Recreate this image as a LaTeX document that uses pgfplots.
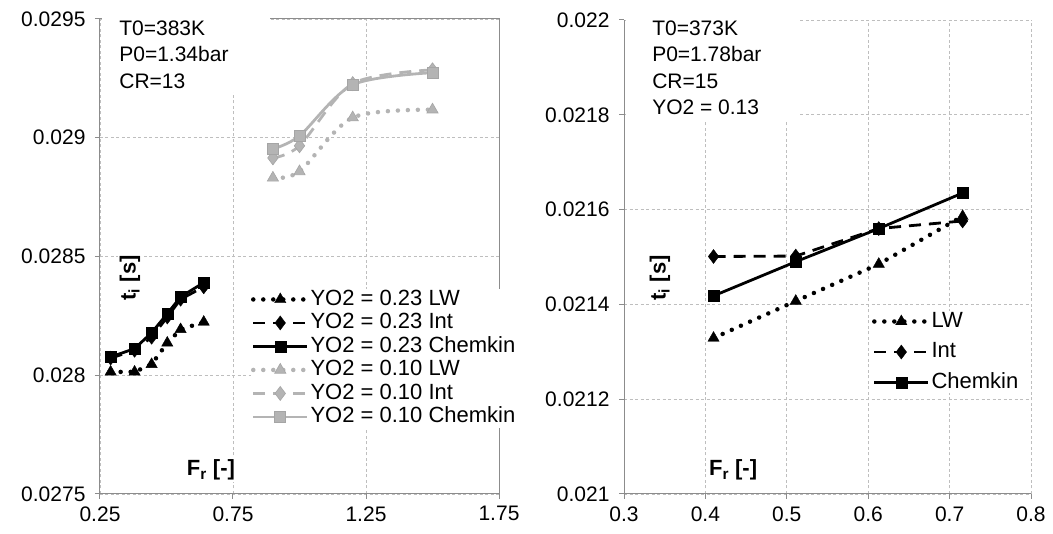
\documentclass[border=0pt]{standalone}
\usepackage{fontspec}
\setmainfont{Liberation Sans}
\usepackage{pgfplots}
\pgfplotsset{compat=1.18}
\definecolor{lg}{RGB}{180,180,180}
\definecolor{lgd}{RGB}{165,165,165}
\definecolor{gridc}{RGB}{190,190,190}
\definecolor{axc}{RGB}{140,140,140}
\pgfplotsset{
  base/.style={scale only axis, anchor=south west,
    font=\fontsize{21}{25}\selectfont,
    /pgf/number format/assume math mode=true,
    scaled x ticks=false, scaled y ticks=false,
    grid=major,
    major grid style={gridc, line width=0.8pt, dash pattern=on 3pt off 2.5pt},
    axis line style={axc, line width=1pt},
    tick style={axc, line width=1pt},
    major tick length=5pt, tick align=outside,
    xtick pos=left, ytick pos=left,
    ticklabel style={font=\fontsize{21}{25}\selectfont},
    yticklabel style={xshift=-6pt},
    xticklabel style={yshift=-4pt},
    clip=false,
    legend cell align=left,
    legend image code/.code={\draw[mark repeat=2,mark phase=2] plot coordinates {(0pt,0pt) (27pt,0pt) (54pt,0pt)};},
  },
  lwb/.style={black, line width=4.5pt, dash pattern=on 0pt off 10pt, line cap=round, mark=triangle*, mark size=6.5pt, mark options={solid, line width=0.4pt, line cap=butt}},
  intb/.style={black, line width=2.8pt, dash pattern=on 12pt off 8pt, mark=diamond*, mark size=7pt, mark options={solid, line width=0.4pt}},
  chb/.style={black, line width=2.8pt, mark=square*, mark size=5.5pt, mark options={solid, line width=0.4pt}},
  lwg/.style={lg, line width=4.5pt, dash pattern=on 0pt off 10pt, line cap=round, mark=triangle*, mark size=6.5pt, mark options={solid, draw=lgd, fill=lg, line width=0.6pt, line cap=butt}},
  intg/.style={lg, line width=2.8pt, dash pattern=on 12pt off 8pt, mark=diamond*, mark size=7pt, mark options={solid, draw=lgd, fill=lg, line width=0.6pt}},
  chg/.style={lg, line width=2.8pt, mark=square*, mark size=5.5pt, mark options={solid, draw=lgd, fill=lg, line width=0.6pt}},
}
\begin{document}
\begin{tikzpicture}
\useasboundingbox (0pt,0pt) rectangle (1053pt,534pt);
% ---------------- left ----------------
\begin{axis}[base, at={(100pt,40pt)}, width=399pt, height=475pt,
  xmin=0.25, xmax=1.75, ymin=0.0275, ymax=0.0295,
  xtick={0.25,0.75,1.25,1.75}, xticklabels={0.25,0.75,1.25,1.75},
  ytick={0.0275,0.028,0.0285,0.029,0.0295}, yticklabels={0.0275,0.028,0.0285,0.029,0.0295},
  legend style={at={(axis description cs:0.378,0.4326)}, anchor=north west, draw=none, fill=white,
    inner sep=0pt, row sep=2pt, font=\fontsize{22}{25}\selectfont,
    nodes={inner sep=1pt, text height=15.5pt, text depth=4pt}},
]
\fill[white] (axis description cs:0.004,1.012) rectangle (axis description cs:0.426,0.846);
\node[anchor=north west, align=left, inner sep=0pt, font=\fontsize{21}{26.5}\selectfont] at (axis description cs:0.048,0.997) {T0=383K\\P0=1.34bar\\CR=13};
\node[rotate=90, fill=white, inner sep=2pt, font=\fontsize{22}{25}\selectfont\bfseries] at (axis description cs:0.075,0.455) {t\textsubscript{i} [s]};
\node[fill=white, inner sep=2pt, font=\fontsize{22}{25}\selectfont\bfseries] at (axis description cs:0.278,0.05) {F\textsubscript{r} [-]};
\addplot[lwb] coordinates {(0.29,0.028014) (0.38,0.028014) (0.444,0.028046) (0.503,0.028136) (0.553,0.028193) (0.64,0.028224)};
\addlegendentry{YO2 = 0.23 LW}
\addplot[intb] coordinates {(0.29,0.028072) (0.38,0.028105) (0.444,0.028160) (0.503,0.028245) (0.553,0.028320) (0.64,0.028372)};
\addlegendentry{YO2 = 0.23 Int}
\addplot[chb] coordinates {(0.29,0.028077) (0.38,0.028112) (0.444,0.028179) (0.503,0.028259) (0.553,0.028330) (0.64,0.028390)};
\addlegendentry{YO2 = 0.23 Chemkin}
\addplot[lwg, smooth] coordinates {(0.9,0.028831) (1.0,0.028858) (1.2,0.029085) (1.5,0.029118)};
\addlegendentry{YO2 = 0.10 LW}
\addplot[intg, smooth] coordinates {(0.9,0.028915) (1.0,0.028966) (1.2,0.029228) (1.5,0.029286)};
\addlegendentry{YO2 = 0.10 Int}
\addplot[chg, smooth] coordinates {(0.9,0.028953) (1.0,0.029008) (1.2,0.029223) (1.5,0.029274)};
\addlegendentry{YO2 = 0.10 Chemkin}
\end{axis}
% ---------------- right ----------------
\begin{axis}[base, at={(624pt,40pt)}, width=407pt, height=474pt,
  axis x line*=bottom, axis y line*=left,
  xmin=0.3, xmax=0.8, ymin=0.021, ymax=0.022,
  xtick={0.3,0.4,0.5,0.6,0.7,0.8}, xticklabels={0.3,0.4,0.5,0.6,0.7,0.8},
  ytick={0.021,0.0212,0.0214,0.0216,0.0218,0.022}, yticklabels={0.021,0.0212,0.0214,0.0216,0.0218,0.022},
  legend style={at={(axis description cs:0.609,0.387)}, anchor=north west, draw=none, fill=white,
    inner sep=0pt, row sep=9pt, font=\fontsize{22}{25}\selectfont,
    nodes={inner sep=1pt, text height=15.5pt, text depth=4pt}},
]
\fill[white] (axis description cs:0.004,1.012) rectangle (axis description cs:0.4275,0.785);
\node[anchor=north west, align=left, inner sep=0pt, font=\fontsize{21}{26.5}\selectfont] at (axis description cs:0.069,0.999) {T0=373K\\P0=1.78bar\\CR=15\\YO2 = 0.13};
\node[rotate=90, fill=white, inner sep=2pt, font=\fontsize{22}{25}\selectfont\bfseries] at (axis description cs:0.088,0.456) {t\textsubscript{i} [s]};
\node[fill=white, inner sep=2pt, font=\fontsize{22}{25}\selectfont\bfseries] at (axis description cs:0.268,0.05) {F\textsubscript{r} [-]};
\addplot[lwb] coordinates {(0.41,0.021329) (0.511,0.021407) (0.613,0.021485) (0.716,0.021586)};
\addlegendentry{LW}
\addplot[intb] coordinates {(0.41,0.021501) (0.511,0.021502) (0.613,0.021560) (0.716,0.021576)};
\addlegendentry{Int}
\addplot[chb] coordinates {(0.41,0.021418) (0.511,0.021490) (0.613,0.021560) (0.716,0.021635)};
\addlegendentry{Chemkin}
\end{axis}
\end{tikzpicture}
\end{document}
